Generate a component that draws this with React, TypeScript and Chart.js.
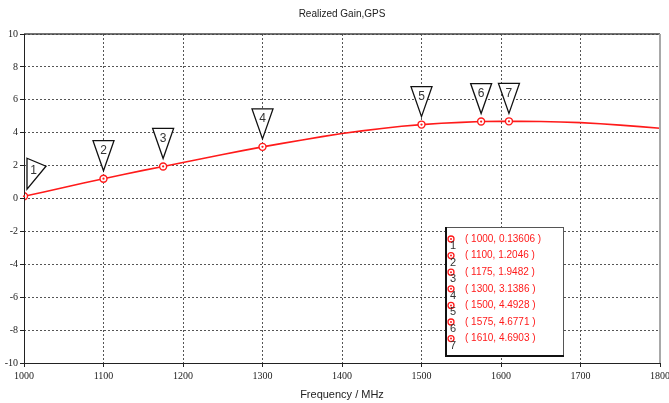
import React, { useEffect, useRef } from "react";
import { Chart, registerables } from "chart.js";

Chart.register(...registerables);

const chartTitle = "Realized Gain,GPS";
const xAxisTitle = "Frequency / MHz";

const freqs = [1000, 1025, 1050, 1075, 1100, 1125, 1150, 1175, 1200, 1225, 1250, 1275, 1300, 1325, 1350, 1375, 1400, 1425, 1450, 1475, 1500, 1525, 1550, 1575, 1600, 1610, 1625, 1650, 1675, 1700, 1725, 1750, 1775, 1800];
const gains = [0.13606, 0.40, 0.67, 0.94, 1.2046, 1.46, 1.71, 1.9482, 2.19, 2.43, 2.67, 2.91, 3.1386, 3.35, 3.56, 3.76, 3.95, 4.11, 4.26, 4.39, 4.4928, 4.57, 4.63, 4.6771, 4.69, 4.6903, 4.69, 4.68, 4.65, 4.61, 4.54, 4.46, 4.37, 4.27];

const markerIds = ["1", "2", "3", "4", "5", "6", "7"];
const markerFreqs = [1000, 1100, 1175, 1300, 1500, 1575, 1610];
const markerGains = [0.13606, 1.2046, 1.9482, 3.1386, 4.4928, 4.6771, 4.6903];

const xMin = 1000;
const xMax = 1800;
const xStep = 100;
const yMin = -10;
const yMax = 10;
const yStep = 2;

const RED = "#ff1a1a";

const markerPlugin = {
  id: "markerPlugin",
  afterDatasetsDraw(chart: any) {
    const { ctx, chartArea, scales } = chart;
    const xs = scales.x;
    const ys = scales.y;
    ctx.save();

    // plot frame
    ctx.setLineDash([]);
    ctx.strokeStyle = "#444";
    ctx.lineWidth = 1.5;
    ctx.beginPath();
    ctx.moveTo(chartArea.left, chartArea.top);
    ctx.lineTo(chartArea.right, chartArea.top);
    ctx.stroke();
    ctx.strokeStyle = "#a8a8a8";
    ctx.lineWidth = 2;
    ctx.beginPath();
    ctx.moveTo(chartArea.right, chartArea.top);
    ctx.lineTo(chartArea.right, chartArea.bottom);
    ctx.stroke();
    ctx.strokeStyle = "#222";
    ctx.lineWidth = 1;
    ctx.beginPath();
    ctx.moveTo(chartArea.left + 0.5, chartArea.top);
    ctx.lineTo(chartArea.left + 0.5, chartArea.bottom);
    ctx.moveTo(chartArea.left, chartArea.bottom + 0.5);
    ctx.lineTo(chartArea.right, chartArea.bottom + 0.5);
    ctx.stroke();

    // marker inner dots
    markerFreqs.forEach((f, i) => {
      const px = xs.getPixelForValue(f);
      const py = ys.getPixelForValue(markerGains[i]);
      ctx.fillStyle = RED;
      ctx.beginPath();
      ctx.arc(px, py, 1.1, 0, Math.PI * 2);
      ctx.fill();
    });

    // triangle flags
    ctx.font = "12px 'Liberation Sans', sans-serif";
    ctx.textAlign = "center";
    ctx.textBaseline = "middle";
    markerFreqs.forEach((f, i) => {
      const px = xs.getPixelForValue(f);
      const py = ys.getPixelForValue(markerGains[i]);
      ctx.beginPath();
      let tx = px;
      let ty = py;
      if (i === 0) {
        ctx.moveTo(px + 3, py - 38);
        ctx.lineTo(px + 22, py - 30);
        ctx.lineTo(px + 3, py - 7);
        ctx.closePath();
        tx = px + 9.5;
        ty = py - 26;
      } else {
        const tip = py - 8;
        const top = tip - 30;
        ctx.moveTo(px - 10.5, top);
        ctx.lineTo(px + 10.5, top);
        ctx.lineTo(px, tip);
        ctx.closePath();
        tx = px;
        ty = top + 10;
      }
      ctx.fillStyle = "#fff";
      ctx.fill();
      ctx.strokeStyle = "#111";
      ctx.lineWidth = 1.3;
      ctx.stroke();
      ctx.fillStyle = "#333";
      ctx.fillText(markerIds[i], tx, ty);
    });

    // marker value box
    const bx = 445;
    const by = 227;
    const bw = 118;
    const bh = 128;
    ctx.fillStyle = "#fff";
    ctx.fillRect(bx, by, bw, bh);
    ctx.strokeStyle = "#555";
    ctx.lineWidth = 1;
    ctx.strokeRect(bx + 0.5, by + 0.5, bw, bh);
    ctx.strokeStyle = "#111";
    ctx.lineWidth = 2;
    ctx.beginPath();
    ctx.moveTo(bx + 1, by);
    ctx.lineTo(bx + 1, by + bh + 1);
    ctx.lineTo(bx + bw + 1, by + bh + 1);
    ctx.stroke();

    ctx.textAlign = "left";
    ctx.textBaseline = "middle";
    markerFreqs.forEach((f, i) => {
      const ry = by + 12 + i * 16.6;
      ctx.strokeStyle = RED;
      ctx.lineWidth = 1.3;
      ctx.fillStyle = "#fff";
      ctx.beginPath();
      ctx.arc(bx + 6, ry, 3, 0, Math.PI * 2);
      ctx.fill();
      ctx.stroke();
      ctx.fillStyle = RED;
      ctx.beginPath();
      ctx.arc(bx + 6, ry, 1, 0, Math.PI * 2);
      ctx.fill();
      ctx.fillStyle = "#333";
      ctx.font = "11px 'Liberation Sans', sans-serif";
      ctx.fillText(markerIds[i], bx + 5, ry + 7);
      ctx.fillStyle = RED;
      ctx.font = "10px 'Liberation Sans', sans-serif";
      ctx.fillText("( " + f + ", " + markerGains[i] + " )", bx + 20, ry);
    });

    ctx.restore();
  },
};

export default function App() {
  const ref = useRef<HTMLCanvasElement | null>(null);

  useEffect(() => {
    if (!ref.current) return;
    const lineData = freqs.map((f, i) => ({ x: f, y: gains[i] }));
    const markerData = markerFreqs.map((f, i) => ({ x: f, y: markerGains[i] }));
    const chart = new Chart(ref.current, {
      type: "line",
      data: {
        datasets: [
          {
            data: markerData,
            showLine: false,
            pointRadius: 3.5,
            pointBorderWidth: 1.4,
            pointBorderColor: RED,
            pointBackgroundColor: "#fff",
            borderColor: RED,
          },
          {
            data: lineData,
            borderColor: RED,
            borderWidth: 1.6,
            pointRadius: 0,
            tension: 0,
            fill: false,
          },
        ],
      },
      options: {
        responsive: false,
        animation: false,
        devicePixelRatio: 1,
        layout: { padding: { left: 0, right: 9, top: 0, bottom: 0 } },
        plugins: {
          legend: { display: false },
          tooltip: { enabled: false },
          title: {
            display: true,
            fullSize: false,
            text: chartTitle,
            color: "#222",
            font: { family: "'Liberation Sans', sans-serif", size: 10, weight: "normal" },
            padding: { top: 8, bottom: 14 },
          },
        },
        scales: {
          x: {
            type: "linear",
            min: xMin,
            max: xMax,
            afterFit: (s: any) => {
              s.height = 40;
              s.paddingRight = 0;
              s.paddingLeft = 0;
            },
            ticks: {
              stepSize: xStep,
              color: "#222",
              padding: 3,
              maxRotation: 0,
              font: { family: "'Liberation Serif', serif", size: 10 },
              callback: (v: any) => String(v),
            },
            grid: {
              color: "#555",
              tickLength: 4,
              tickColor: "#222",
              tickBorderDash: [],
            },
            border: { display: false, dash: [2, 2] },
            title: {
              display: true,
              text: xAxisTitle,
              color: "#222",
              font: { family: "'Liberation Sans', sans-serif", size: 11 },
              padding: { top: 0, bottom: 1 },
            },
          },
          y: {
            type: "linear",
            min: yMin,
            max: yMax,
            afterFit: (s: any) => {
              s.width = 24;
            },
            ticks: {
              stepSize: yStep,
              color: "#222",
              padding: 2,
              font: { family: "'Liberation Serif', serif", size: 10 },
            },
            grid: {
              color: "#555",
              tickLength: 4,
              tickColor: "#222",
              tickBorderDash: [],
            },
            border: { display: false, dash: [2, 2] },
          },
        },
      },
      plugins: [markerPlugin],
    } as any);
    return () => chart.destroy();
  }, []);

  return (
    <div style={{ position: "absolute", left: 0, top: 0, width: 669, height: 403, background: "#fff" }}>
      <canvas ref={ref} width={669} height={403} />
    </div>
  );
}
